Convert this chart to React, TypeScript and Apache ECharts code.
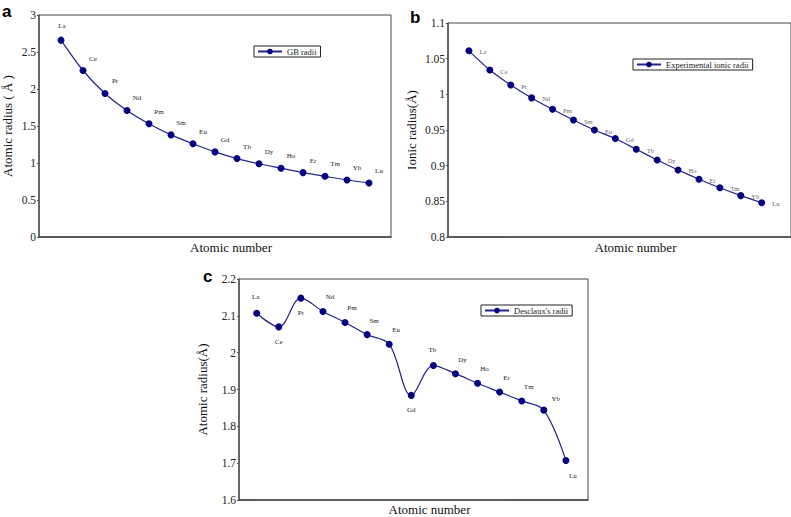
import React, { useEffect, useRef } from "react";
import * as echarts from "echarts";

const elements = ["La", "Ce", "Pr", "Nd", "Pm", "Sm", "Eu", "Gd", "Tb", "Dy", "Ho", "Er", "Tm", "Yb", "Lu"];
const atomicNumbers = [57, 58, 59, 60, 61, 62, 63, 64, 65, 66, 67, 68, 69, 70, 71];
const gbRadii = [2.66, 2.25, 1.94, 1.71, 1.53, 1.38, 1.26, 1.15, 1.06, 0.99, 0.93, 0.87, 0.82, 0.77, 0.73];
const ionicRadii = [1.061, 1.034, 1.013, 0.995, 0.979, 0.964, 0.95, 0.938, 0.923, 0.908, 0.894, 0.881, 0.869, 0.858, 0.848];
const desclauxRadii = [2.107, 2.07, 2.148, 2.112, 2.082, 2.049, 2.023, 1.884, 1.965, 1.943, 1.917, 1.893, 1.869, 1.844, 1.707];

const labelPosC = ["top", "bottom", "bottom", "tr", "tr", "tr", "tr", "bottom", "top", "tr", "tr", "tr", "tr", "yb", "br"];

const SERIF = "Liberation Serif";
const NAVY = "#000080";
const LINE = "#23238f";

export default function App() {
  const ref = useRef<HTMLDivElement>(null);
  useEffect(() => {
    const chart = echarts.init(ref.current!, null, { renderer: "svg" });

    const mkData = (vals: number[], labelFn: (i: number) => any) =>
      vals.map((v, i) => ({ value: [atomicNumbers[i], v], name: elements[i], label: labelFn(i) }));

    const baseLabel = {
      show: true,
      fontFamily: SERIF,
      fontSize: 7,
      color: "#222",
      formatter: (p: any) => p.name,
    };

    const dataA = mkData(gbRadii, (i) =>
      i === 0
        ? { ...baseLabel, position: "top", offset: [1, -2] }
        : { ...baseLabel, position: "top", offset: [10, 0] }
    );
    const dataB = mkData(ionicRadii, () => ({
      ...baseLabel,
      color: "#666",
      fontSize: 6.5,
      position: "right",
      offset: [2, 1],
    }));
    const dataC = mkData(desclauxRadii, (i) => {
      const p = labelPosC[i];
      if (p === "top") return { ...baseLabel, position: "top", offset: [-1, -4] };
      if (p === "bottom") return { ...baseLabel, position: "bottom", offset: [0, 3] };
      if (p === "tr") return { ...baseLabel, position: "top", offset: [7, -2] };
      if (p === "yb") return { ...baseLabel, position: "top", offset: [12, 1] };
      return { ...baseLabel, position: "bottom", offset: [7, 3] };
    });

    const axisLabelY = { fontFamily: SERIF, fontSize: 11.5, color: "#222", margin: 3 };
    const yNameStyle = { fontFamily: SERIF, fontSize: 13, color: "#111" };
    const xNameStyle = { fontFamily: SERIF, fontSize: 13, color: "#111", padding: [0, 0, 0, 32] };

    const mkX = (gridIndex: number, min: number, max: number, gap: number) => ({
      type: "value",
      gridIndex,
      min,
      max,
      axisLabel: { show: false },
      axisTick: { show: false },
      splitLine: { show: false },
      axisLine: { show: true, lineStyle: { color: "#444", width: 1.5 } },
      name: "Atomic number",
      nameLocation: "middle",
      nameGap: gap,
      nameTextStyle: xNameStyle,
    });
    const mkY = (gridIndex: number, min: number, max: number, interval: number, name: string, gap: number) => ({
      type: "value",
      gridIndex,
      min,
      max,
      interval,
      axisLabel: axisLabelY,
      axisTick: { show: true, length: 2, lineStyle: { color: "#555", width: 1 } },
      splitLine: { show: false },
      axisLine: { show: true, lineStyle: { color: "#555", width: 1.5 } },
      name,
      nameLocation: "middle",
      nameGap: gap,
      nameRotate: 90,
      nameTextStyle: yNameStyle,
    });

    const mkSeries = (name: string, idx: number, data: any[], smooth: number) => ({
      type: "line",
      name,
      xAxisIndex: idx,
      yAxisIndex: idx,
      data,
      smooth,
      symbol: "circle",
      symbolSize: 7,
      itemStyle: { color: NAVY },
      lineStyle: { color: LINE, width: 1.2 },
    });

    const mkLegend = (name: string, left: number, top: number) => ({
      data: [name],
      left,
      top,
      orient: "horizontal",
      borderColor: "#222",
      borderWidth: 1,
      padding: [1, 4, 1, 3],
      itemWidth: 24,
      itemHeight: 7,
      itemGap: 4,
      textStyle: { fontFamily: SERIF, fontSize: 8.5, color: "#222", padding: [1, 0, 0, 0] },
      selectedMode: false,
    });

    const gridStyle = { show: true, borderColor: "#444", borderWidth: 1, backgroundColor: "transparent" };

    chart.setOption({
      animation: false,
      backgroundColor: "#fff",
      textStyle: { fontFamily: SERIF },
      grid: [
        { ...gridStyle, left: 38, top: 15, width: 353, height: 222 },
        { ...gridStyle, left: 448, top: 23, width: 350, height: 214 },
        { ...gridStyle, left: 239, top: 279, width: 349, height: 222 },
      ],
      xAxis: [mkX(0, 56, 72, 4), mkX(1, 56, 72.4, 4), mkX(2, 56.2, 72, 3)],
      yAxis: [
        mkY(0, 0, 3, 0.5, "Atomic radius ( Å )", 25),
        mkY(1, 0.8, 1.1, 0.05, "Ionic radius(Å)", 30),
        mkY(2, 1.6, 2.2, 0.1, "Atomic radius(Å)", 30),
      ],
      legend: [
        mkLegend("GB radii", 254, 46),
        mkLegend("Experimental ionic radii", 633, 59),
        mkLegend("Desclaux's radii", 481, 305),
      ],
      series: [
        mkSeries("GB radii", 0, dataA, 0.3),
        mkSeries("Experimental ionic radii", 1, dataB, 0.2),
        mkSeries("Desclaux's radii", 2, dataC, 0.35),
      ],
      graphic: [
        { type: "text", left: 2, top: 3, style: { text: "a", font: "bold 17px Liberation Sans", fill: "#000" } },
        { type: "text", left: 410, top: 9, style: { text: "b", font: "bold 17px Liberation Sans", fill: "#000" } },
        { type: "text", left: 203, top: 268, style: { text: "c", font: "bold 17px Liberation Sans", fill: "#000" } },
      ],
    });
    return () => chart.dispose();
  }, []);
  return <div ref={ref} style={{ position: "absolute", left: 0, top: 0, width: 791, height: 517 }} />;
}
